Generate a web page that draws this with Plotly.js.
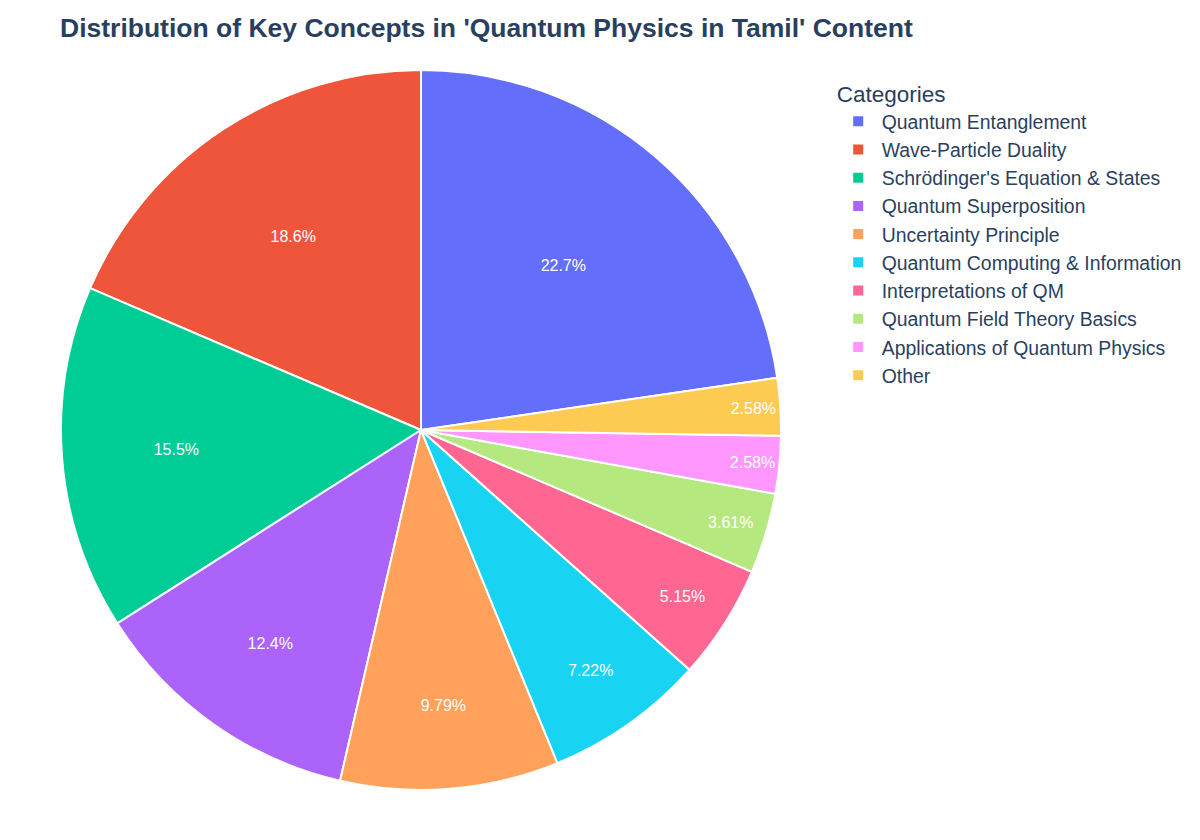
<!DOCTYPE html>
<html>
<head>
<meta charset="utf-8">
<script src="https://cdn.plot.ly/plotly-3.0.1.min.js"></script>
<style>html,body{margin:0;padding:0;background:#fff;}</style>
</head>
<body>
<div id="chart" style="width:1200px;height:840px;"></div>
<script>
const categories = ["Quantum Entanglement","Wave-Particle Duality","Schrödinger's Equation & States","Quantum Superposition","Uncertainty Principle","Quantum Computing & Information","Interpretations of QM","Quantum Field Theory Basics","Applications of Quantum Physics","Other"];
const counts = [44, 36, 30, 24, 19, 14, 10, 7, 5, 5];
const colors = ["#636efa","#EF553B","#00cc96","#ab63fa","#FFA15A","#19d3f3","#FF6692","#B6E880","#FF97FF","#FECB52"];

const data = [{
  type: "pie",
  labels: categories,
  values: counts,
  sort: false,
  direction: "counterclockwise",
  rotation: 0,
  textinfo: "percent",
  textposition: "inside",
  insidetextfont: {color: "#ffffff", size: 16, family: "Arial, Liberation Sans, sans-serif"},
  marker: {colors: colors, line: {color: "#ffffff", width: 2}},
  hole: 0
}];

const layout = {
  width: 1200, height: 840,
  paper_bgcolor: "#ffffff", plot_bgcolor: "#ffffff",
  font: {family: "Arial, Liberation Sans, sans-serif", color: "#2a3f5f"},
  title: {text: "<b>Distribution of Key Concepts in 'Quantum Physics in Tamil' Content</b>", x: 0.05, xanchor: "left", y: 0.9667, yanchor: "middle", font: {size: 26.5, color: "#2a3f5f", family: "Arial, Liberation Sans, sans-serif"}},
  margin: {l: 60, r: 418, t: 70, b: 50},
  showlegend: true,
  legend: {title: {text: "Categories", font: {size: 22.5}}, font: {size: 19.4}, itemwidth: 37, x: 1.073, y: 0.996, xanchor: "left", yanchor: "top"}
};

Plotly.newPlot("chart", data, layout, {displayModeBar: false});
</script>
</body>
</html>
